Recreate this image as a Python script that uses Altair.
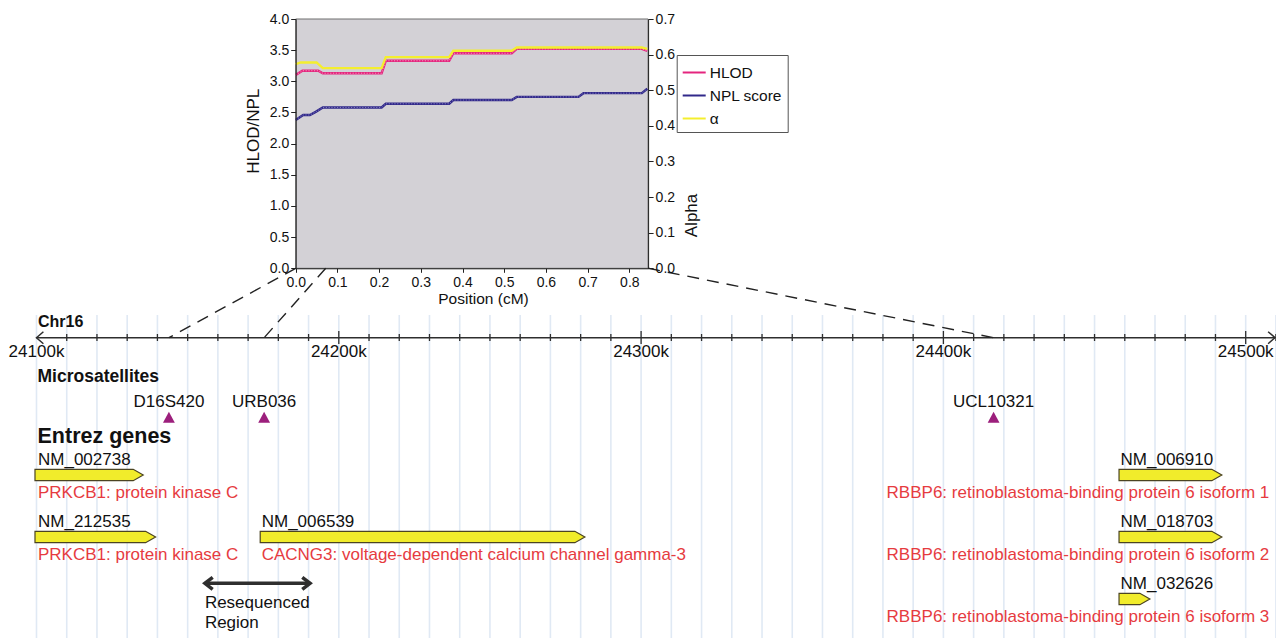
import altair as alt
import pandas as pd

FONT = "Liberation Sans"

# ===================== data =====================
# Linkage curves over the critical interval (position in cM)
hlod_cm = [0.000, 0.016, 0.054, 0.065, 0.206, 0.216, 0.368, 0.378, 0.518, 0.530, 0.830, 0.843]
hlod_val = [3.10, 3.17, 3.17, 3.13, 3.13, 3.33, 3.33, 3.45, 3.45, 3.52, 3.52, 3.49]
npl_cm = [0.000, 0.018, 0.034, 0.048, 0.065, 0.206, 0.216, 0.368, 0.378, 0.518, 0.530, 0.678, 0.690, 0.830, 0.843]
npl_val = [2.38, 2.46, 2.46, 2.51, 2.58, 2.58, 2.64, 2.64, 2.70, 2.70, 2.75, 2.75, 2.81, 2.81, 2.88]
alpha_cm = [0.000, 0.012, 0.050, 0.065, 0.206, 0.216, 0.368, 0.378, 0.518, 0.530, 0.830, 0.843]
alpha_val = [0.573, 0.578, 0.578, 0.562, 0.562, 0.593, 0.593, 0.611, 0.611, 0.620, 0.620, 0.616]
series_names = ["HLOD", "NPL score", "α"]

cm_ticks = [0.0, 0.1, 0.2, 0.3, 0.4, 0.5, 0.6, 0.7, 0.8]
score_ticks = [0.0, 0.5, 1.0, 1.5, 2.0, 2.5, 3.0, 3.5, 4.0]
alpha_ticks = [0.0, 0.1, 0.2, 0.3, 0.4, 0.5, 0.6, 0.7]

# Chromosome track (positions in kb)
chrom = "Chr16"
chrom_view_kb = [24100, 24512]
major_kb = [24100, 24200, 24300, 24400, 24500]
minor_step_kb = 10

ms_names = ["D16S420", "URB036", "UCL10321"]
ms_kb = [24143.8, 24175.3, 24416.6]
ms_cm = [0.0, 0.072, 0.845]

gene_ids = ["NM_002738", "NM_212535", "NM_006539", "NM_006910", "NM_018703", "NM_032626"]
gene_desc = [
    "PRKCB1: protein kinase C",
    "PRKCB1: protein kinase C",
    "CACNG3: voltage-dependent calcium channel gamma-3",
    "RBBP6: retinoblastoma-binding protein 6 isoform 1",
    "RBBP6: retinoblastoma-binding protein 6 isoform 2",
    "RBBP6: retinoblastoma-binding protein 6 isoform 3",
]
gene_start_kb = [24099.5, 24099.5, 24174.0, 24458.1, 24458.1, 24458.1]
gene_end_kb = [24135.3, 24139.4, 24281.4, 24492.1, 24492.1, 24468.3]
gene_row = [0, 1, 1, 0, 1, 2]

reseq_kb = [24155.7, 24190.5]
reseq_text = ["Resequenced", "Region"]

# ===================== layout (pixels) =====================
W, H = 1268, 630
ORIG = 8  # page offset of the plot origin

CM_DOM = [0.0, 0.845]
CM_RNG = [287.7, 640.1]
SCORE_DOM = [0.0, 4.0]
ALPHA_DOM = [0.0, 0.7]
VAL_RNG = [260.3, 11.0]
KB_DOM = [24100, 24500]
KB_RNG = [28.5, 1237.7]

CM = alt.Scale(domain=CM_DOM, range=CM_RNG, nice=False, zero=False)
SC = alt.Scale(domain=SCORE_DOM, range=VAL_RNG, nice=False, zero=False)
AL = alt.Scale(domain=ALPHA_DOM, range=VAL_RNG, nice=False, zero=False)
KB = alt.Scale(domain=KB_DOM, range=KB_RNG, nice=False, zero=False)
LY = alt.Scale(domain=[ORIG, ORIG + H], range=[0, H], nice=False, zero=False)

PX_PER_KB = (KB_RNG[1] - KB_RNG[0]) / (KB_DOM[1] - KB_DOM[0])


def px_to_kb(p):
    return KB_DOM[0] + (p - KB_RNG[0]) / PX_PER_KB


def cm_to_px(c):
    return CM_RNG[0] + (c - CM_DOM[0]) / (CM_DOM[1] - CM_DOM[0]) * (CM_RNG[1] - CM_RNG[0])


# visible end of the chromosome ruler (clipped to the canvas)
VIEW_END_KB = min(chrom_view_kb[1], px_to_kb(W - 1))

# page-y layout of the browser track
Y_TOPAXIS = VAL_RNG[0] + ORIG
Y_GRID = (315, 640)
Y_CHR_LABEL = 327
Y_AXIS = 337.7
Y_MAJOR = (331, 344)
Y_MINOR = (334, 341)
Y_TICKLBL = 357
Y_MS_TITLE = 381.7
Y_MS_LABEL = 406.7
Y_MS_MARK = 417.6
Y_GENE_TITLE = 442.7
ROW0_TOP = 469.3
ROW_PITCH = 62
BAR_H = 11.4
HEAD_KB = 10 / PX_PER_KB
Y_RESEQ = 583.3
Y_RESEQ_TXT = [608.3, 628.3]
LABEL_RIGHT_KB = KB_DOM[1] + 23.6 / PX_PER_KB

PINK = "#e4257e"
PINK_DOT = "#f59cc3"
NAVY = "#31298a"
NAVY_DOT = "#8a84c4"
YELLOW = "#f4ee2e"
GRAY_BG = "#d3d1d6"
GRID = "#e0e9f4"
PURPLE = "#9c1f7c"
RED = "#e63b3f"
GENE_FILL = "#f1ec2b"
GENE_EDGE = "#4b4422"
INK = "#2e2e2e"
TXT = "#111111"


def kbx(field="kb"):
    return alt.X(f"{field}:Q", scale=KB, axis=None)


def lyy(field="y"):
    return alt.Y(f"{field}:Q", scale=LY, axis=None)


def text_layer(df, align="left", size=17, weight="normal", color=TXT, dx=0):
    return alt.Chart(df).mark_text(
        align=align, baseline="alphabetic", font=FONT, fontSize=size,
        fontWeight=weight, color=color, dx=dx
    ).encode(x=kbx(), y=lyy(), text="t:N")


# ===================== top chart =====================
bg_df = pd.DataFrame({"x0": [CM_DOM[0]], "x1": [CM_DOM[1]], "y0": [SCORE_DOM[0]], "y1": [SCORE_DOM[1]]})

axis_common = dict(
    labelFont=FONT, labelFontSize=14, labelColor=TXT, titleFont=FONT,
    titleFontWeight="normal", titleColor=TXT, tickColor="#222", domainColor="#222",
    tickWidth=1, domainWidth=1, grid=False, zindex=1, labelOverlap=False, labelFlush=False,
    format=".1f",
)

bg = alt.Chart(bg_df).mark_rect(fill=GRAY_BG, stroke="#6e6e6e", strokeWidth=1).encode(
    x=alt.X("x0:Q", scale=CM, axis=alt.Axis(
        orient="bottom", offset=VAL_RNG[0] - H, values=cm_ticks, title="Position (cM)",
        titleX=475, titlePadding=2, titleFontSize=15.5, tickSize=4, labelPadding=3, **axis_common)),
    x2="x1:Q",
    y=alt.Y("y0:Q", scale=SC, axis=alt.Axis(
        orient="left", offset=-CM_RNG[0], values=score_ticks, title="HLOD/NPL",
        titleY=122.7, titlePadding=7, titleFontSize=17, tickSize=5, labelPadding=2, **axis_common)),
    y2="y1:Q",
)

color_enc = alt.Color("series:N", scale=alt.Scale(domain=series_names, range=[PINK, NAVY, YELLOW]),
                      legend=alt.Legend(
                          orient="none", legendX=668.7, legendY=47, title=None, symbolType="stroke",
                          symbolSize=529, symbolStrokeWidth=2, labelFont=FONT, labelFontSize=15.5,
                          labelColor=TXT, labelOffset=3, padding=5, rowPadding=2,
                          strokeColor="#555555", fillColor="#ffffff", direction="vertical"))

hlod_df = pd.DataFrame({"cm": hlod_cm, "val": hlod_val, "series": series_names[0]})
npl_df = pd.DataFrame({"cm": npl_cm, "val": npl_val, "series": series_names[1]})
alpha_df = pd.DataFrame({"cm": alpha_cm, "val": alpha_val, "series": series_names[2]})
lines_df = pd.concat([hlod_df, npl_df])

score_lines = alt.Chart(lines_df).mark_line(strokeWidth=2.4).encode(
    x=alt.X("cm:Q", scale=CM, axis=None),
    y=alt.Y("val:Q", scale=SC, axis=None),
    color=color_enc,
)


def dotted(df, col):
    return alt.Chart(df).mark_line(strokeWidth=0.9, strokeDash=[1.2, 1.6], color=col).encode(
        x=alt.X("cm:Q", scale=CM, axis=None),
        y=alt.Y("val:Q", scale=SC, axis=None),
    )


hlod_dots = dotted(hlod_df, PINK_DOT)
npl_dots = dotted(npl_df, NAVY_DOT)

alpha_line = alt.Chart(alpha_df).mark_line(strokeWidth=2.4).encode(
    x=alt.X("cm:Q", scale=CM, axis=None),
    y=alt.Y("val:Q", scale=AL, axis=alt.Axis(
        orient="right", offset=-(W - CM_RNG[1]), values=alpha_ticks, title="Alpha",
        titleAngle=270, titleBaseline="top", titleY=207, titlePadding=9, titleFontSize=17,
        tickSize=5, labelPadding=2, **axis_common)),
    color=color_enc,
)

# ===================== browser track =====================
grid_kb = list(range(chrom_view_kb[0], chrom_view_kb[1], minor_step_kb))
grid_df = pd.DataFrame({"kb": grid_kb, "y": Y_GRID[0], "y2": Y_GRID[1]})
grid = alt.Chart(grid_df).mark_rule(color=GRID, strokeWidth=1.6).encode(x=kbx(), y=lyy(), y2="y2:Q")

axis_df = pd.DataFrame({"kb": [chrom_view_kb[0]], "kb2": [VIEW_END_KB], "y": [Y_AXIS]})
chr_line = alt.Chart(axis_df).mark_rule(color=INK, strokeWidth=1.5).encode(x=kbx(), x2="kb2:Q", y=lyy())

tick_kb = grid_kb[1:]
tick_df = pd.DataFrame({
    "kb": tick_kb,
    "y": [Y_MAJOR[0] if k in major_kb else Y_MINOR[0] for k in tick_kb],
    "y2": [Y_MAJOR[1] if k in major_kb else Y_MINOR[1] for k in tick_kb],
})
ticks = alt.Chart(tick_df).mark_rule(color=INK, strokeWidth=1.3).encode(x=kbx(), y=lyy(), y2="y2:Q")

left_head = alt.Chart(pd.DataFrame({"kb": [chrom_view_kb[0]], "y": [Y_AXIS]})).mark_point(
    shape="M1.15,-1L0,0L1.15,1", size=144, filled=False, color=INK, strokeWidth=1.5, opacity=1
).encode(x=kbx(), y=lyy())
right_head = alt.Chart(pd.DataFrame({"kb": [VIEW_END_KB], "y": [Y_AXIS]})).mark_point(
    shape="M-1.15,-1L0,0L-1.15,1", size=144, filled=False, color=INK, strokeWidth=1.5, opacity=1
).encode(x=kbx(), y=lyy())

tick_labels = text_layer(pd.DataFrame({"kb": major_kb, "y": Y_TICKLBL, "t": [f"{k}k" for k in major_kb]}),
                         align="center", size=17)
chr_label = text_layer(pd.DataFrame({"kb": [chrom_view_kb[0]], "y": [Y_CHR_LABEL], "t": [chrom]}),
                       size=16, weight="bold", dx=1.5)
ms_title = text_layer(pd.DataFrame({"kb": [chrom_view_kb[0]], "y": [Y_MS_TITLE], "t": ["Microsatellites"]}),
                      size=17.5, weight="bold", dx=1)
gene_title = text_layer(pd.DataFrame({"kb": [chrom_view_kb[0]], "y": [Y_GENE_TITLE], "t": ["Entrez genes"]}),
                        size=21.5, weight="bold", dx=1)

ms_df = pd.DataFrame({"kb": ms_kb, "y": Y_MS_MARK, "t": ms_names})
ms_marks = alt.Chart(ms_df).mark_point(shape="M0,-1L-1,0.85L1,0.85Z", size=140, filled=True,
                                        color=PURPLE, opacity=1).encode(x=kbx(), y=lyy())
ms_labels = text_layer(ms_df.assign(y=Y_MS_LABEL), align="center", size=17)

# dashed connectors: cM position on the linkage plot -> marker on the chromosome
conn_df = pd.DataFrame({
    "kb": [px_to_kb(cm_to_px(c)) for c in ms_cm],
    "kb2": ms_kb,
    "y": Y_TOPAXIS,
    "y2": Y_AXIS,
})
connectors = alt.Chart(conn_df).mark_rule(color="#222", strokeWidth=1.4, strokeDash=[12, 8]).encode(
    x=kbx(), x2="kb2:Q", y=lyy(), y2="y2:Q")

# genes as arrow-shaped areas
area_rows = []
for gid, s, e, r in zip(gene_ids, gene_start_kb, gene_end_kb, gene_row):
    top = ROW0_TOP + r * ROW_PITCH
    bot = top + BAR_H
    mid = (top + bot) / 2
    area_rows += [
        {"g": gid, "kb": s, "y": top, "y2": bot},
        {"g": gid, "kb": e - HEAD_KB, "y": top, "y2": bot},
        {"g": gid, "kb": e, "y": mid, "y2": mid},
    ]
genes = alt.Chart(pd.DataFrame(area_rows)).mark_area(
    fill=GENE_FILL, stroke=GENE_EDGE, strokeWidth=1.2, opacity=1, fillOpacity=1
).encode(x=kbx(), y=lyy(), y2="y2:Q", detail="g:N")

id_rows, left_desc, right_desc = [], [], []
for gid, d, s, r in zip(gene_ids, gene_desc, gene_start_kb, gene_row):
    top = ROW0_TOP + r * ROW_PITCH
    anchor = max(s, KB_DOM[0])
    id_rows.append({"kb": anchor, "y": top - 4.3, "t": gid})
    est_kb = len(d) * 0.47 * 17 / PX_PER_KB
    row = {"kb": anchor, "y": top + BAR_H + 16.8, "t": d}
    if anchor + est_kb > chrom_view_kb[1]:
        row["kb"] = LABEL_RIGHT_KB
        right_desc.append(row)
    else:
        left_desc.append(row)

gene_ids_txt = text_layer(pd.DataFrame(id_rows), size=17, dx=1.5)
desc_left = text_layer(pd.DataFrame(left_desc), size=17, color=RED, dx=1.5)
desc_right = text_layer(pd.DataFrame(right_desc), align="right", size=17, color=RED)

# resequenced region
rs_df = pd.DataFrame({"kb": [reseq_kb[0]], "kb2": [reseq_kb[1]], "y": [Y_RESEQ]})
rs_line = alt.Chart(rs_df).mark_rule(color=INK, strokeWidth=3.5).encode(x=kbx(), x2="kb2:Q", y=lyy())
rs_left = alt.Chart(pd.DataFrame({"kb": [reseq_kb[0]], "y": [Y_RESEQ]})).mark_point(
    shape="M1.3,-1L0,0L1.3,1", size=144, filled=False, color=INK, strokeWidth=3.5, opacity=1,
    strokeJoin="miter", strokeCap="butt").encode(x=kbx(), y=lyy())
rs_right = alt.Chart(pd.DataFrame({"kb": [reseq_kb[1]], "y": [Y_RESEQ]})).mark_point(
    shape="M-1.3,-1L0,0L-1.3,1", size=144, filled=False, color=INK, strokeWidth=3.5, opacity=1,
    strokeJoin="miter", strokeCap="butt").encode(x=kbx(), y=lyy())
rs_text = text_layer(pd.DataFrame({"kb": reseq_kb[0], "y": Y_RESEQ_TXT, "t": reseq_text}), size=17)

chart = alt.layer(
    grid, bg, score_lines, hlod_dots, npl_dots, alpha_line,
    chr_line, ticks, left_head, right_head, tick_labels, chr_label,
    connectors,
    ms_title, ms_marks, ms_labels, gene_title,
    genes, gene_ids_txt, desc_left, desc_right,
    rs_line, rs_left, rs_right, rs_text,
).resolve_scale(
    x="independent", y="independent"
).properties(
    width=W, height=H, padding=0, autosize=alt.AutoSizeParams(type="none"), background="white"
).configure_view(stroke=None)

chart.save("out.html", embed_options={"renderer": "svg", "actions": False})
